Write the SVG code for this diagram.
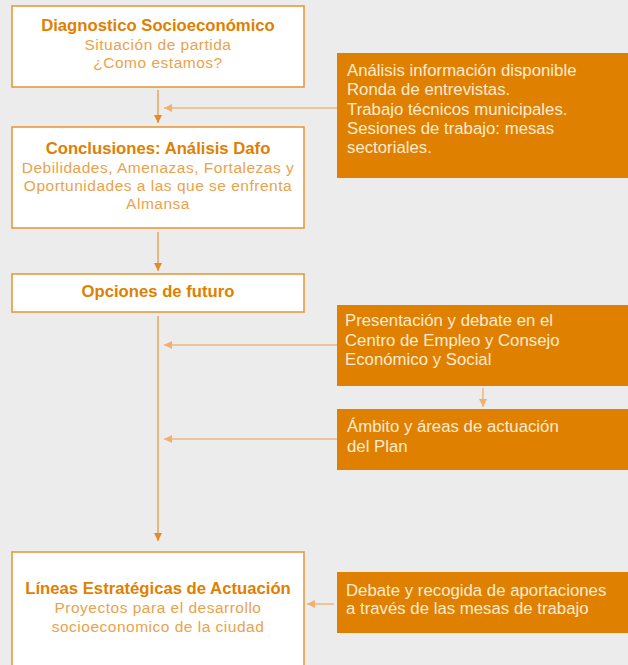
<svg xmlns="http://www.w3.org/2000/svg" width="628" height="665" viewBox="0 0 628 665">
<defs>
<style>
.box{fill:#ffffff;stroke:#e89a3e;stroke-width:1.6}
.obox{fill:#e08000}
.title{font-family:"Liberation Sans",Arial,sans-serif;font-weight:bold;font-size:16.7px;fill:#e07f00;text-anchor:middle}
.sub{font-family:"Liberation Sans",Arial,sans-serif;font-size:15.5px;letter-spacing:0.5px;fill:#eba24c;text-anchor:middle}
.otext{font-family:"Liberation Sans",Arial,sans-serif;font-size:16.8px;fill:#fdebd3}
.conn{stroke:#eba55a;stroke-width:1.5;fill:none}
.conn2{stroke:#f0b77a;stroke-width:1.5;fill:none}
</style>
<marker id="ah" viewBox="0 0 8 8" refX="8" refY="4" markerWidth="8" markerHeight="8" markerUnits="userSpaceOnUse" orient="auto">
<path d="M0,0 L8,4 L0,8 Z" fill="#e58a2a"/>
</marker>
<marker id="ah2" viewBox="0 0 8 8" refX="8" refY="4" markerWidth="8" markerHeight="8" markerUnits="userSpaceOnUse" orient="auto">
<path d="M0,0 L8,4 L0,8 Z" fill="#f0b070"/>
</marker>
</defs>
<rect width="628" height="665" fill="#ebeceb"/>

<g id="connectors">
<line class="conn" x1="158" y1="90" x2="158" y2="123" marker-end="url(#ah)"/>
<line class="conn" x1="158" y1="232" x2="158" y2="271" marker-end="url(#ah)"/>
<line class="conn" x1="158" y1="316" x2="158" y2="541" marker-end="url(#ah)"/>
<line class="conn2" x1="337" y1="108" x2="164" y2="108" marker-end="url(#ah2)"/>
<line class="conn2" x1="337" y1="345" x2="164" y2="345" marker-end="url(#ah2)"/>
<line class="conn2" x1="337" y1="439" x2="164" y2="439" marker-end="url(#ah2)"/>
<line class="conn2" x1="483" y1="388" x2="483" y2="407" marker-end="url(#ah2)"/>
<line class="conn2" x1="334" y1="604" x2="307" y2="604" marker-end="url(#ah2)"/>
</g>

<g id="diagnostico">
<rect class="box" x="12" y="6" width="292" height="81"/>
<text class="title" x="158" y="31">Diagnostico Socioeconómico</text>
<text class="sub" x="158" y="50">Situación de partida</text>
<text class="sub" x="158" y="68">¿Como estamos?</text>
</g>

<g id="analisis-info">
<rect class="obox" x="337" y="53" width="291" height="125"/>
<text class="otext" x="347" y="76">Análisis información disponible</text>
<text class="otext" x="347" y="95">Ronda de entrevistas.</text>
<text class="otext" x="347" y="115">Trabajo técnicos municipales.</text>
<text class="otext" x="347" y="134">Sesiones de trabajo: mesas</text>
<text class="otext" x="347" y="153">sectoriales.</text>
</g>

<g id="conclusiones">
<rect class="box" x="12" y="127" width="292" height="101"/>
<text class="title" x="158" y="154">Conclusiones: Análisis Dafo</text>
<text class="sub" x="158" y="172.5">Debilidades, Amenazas, Fortalezas y</text>
<text class="sub" x="158" y="190.5">Oportunidades a las que se enfrenta</text>
<text class="sub" x="158" y="208.5">Almansa</text>
</g>

<g id="opciones">
<rect class="box" x="12" y="274" width="292" height="38"/>
<text class="title" x="158" y="297">Opciones de futuro</text>
</g>

<g id="presentacion">
<rect class="obox" x="337" y="305" width="291" height="81"/>
<text class="otext" x="345" y="326">Presentación y debate en el</text>
<text class="otext" x="345" y="346">Centro de Empleo y Consejo</text>
<text class="otext" x="345" y="365">Económico y Social</text>
</g>

<g id="ambito">
<rect class="obox" x="337" y="409" width="291" height="61"/>
<text class="otext" x="347" y="432">Ámbito y áreas de actuación</text>
<text class="otext" x="347" y="452">del Plan</text>
</g>

<g id="lineas">
<rect class="box" x="12" y="552" width="292" height="125"/>
<text class="title" x="158" y="594">Líneas Estratégicas de Actuación</text>
<text class="sub" x="158" y="613">Proyectos para el desarrollo</text>
<text class="sub" x="158" y="632">socioeconomico de la ciudad</text>
</g>

<g id="debate">
<rect class="obox" x="337" y="572" width="291" height="61"/>
<text class="otext" x="346" y="596">Debate y recogida de aportaciones</text>
<text class="otext" x="346" y="614">a través de las mesas de trabajo</text>
</g>
</svg>
